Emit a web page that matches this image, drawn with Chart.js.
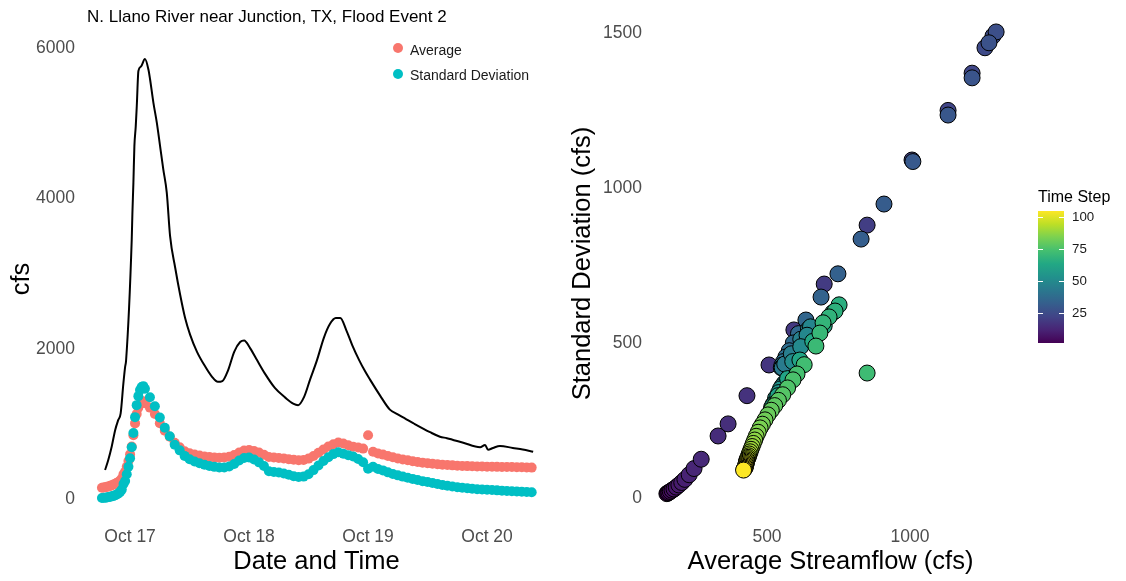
<!DOCTYPE html>
<html>
<head>
<meta charset="utf-8">
<script src="https://cdn.jsdelivr.net/npm/chart.js@4.4.1/dist/chart.umd.min.js"></script>
<style>
  html, body { margin: 0; padding: 0; background: #fff; }
  body { font-family: "Liberation Sans", Arial, sans-serif; }
  #wrap { position: relative; width: 1126px; height: 581px; overflow: hidden; }
  #wrap canvas { position: absolute; top: 0; }
  .txt { position: absolute; white-space: nowrap; }
  .dot { position: absolute; width: 10px; height: 10px; border-radius: 50%; }
  .cbTick { position: absolute; height: 1px; width: 5px; background: #fff; }
</style>
</head>
<body>
<div id="wrap">
  <canvas id="left" width="565" height="581" style="left:0"></canvas>
  <canvas id="right" width="561" height="581" style="left:565px"></canvas>

  <div class="txt" style="left:87px;top:7px;font-size:17px;line-height:20px;color:#000">N. Llano River near Junction, TX, Flood Event 2</div>

  <div class="dot" style="left:393px;top:43px;background:#F8766D"></div>
  <div class="txt" style="left:410px;top:42px;font-size:14px;line-height:16px;color:#1a1a1a">Average</div>
  <div class="dot" style="left:393px;top:69px;background:#00BFC4"></div>
  <div class="txt" style="left:410px;top:67px;font-size:14px;line-height:16px;color:#1a1a1a">Standard Deviation</div>

  <div class="txt" style="left:1038px;top:189px;font-size:16px;line-height:16px;color:#000">Time Step</div>
  <div id="cbBar" style="position:absolute;left:1038px;top:211px;width:26px;height:132px"></div>
  <div id="cbTicks"></div>
</div>
<script>
// Datos: horas desde Oct 16 00:00, caudal medio y desviación estándar por paso de tiempo
const stepHours = [
  18.33, 18.67, 19.00, 19.33, 19.67, 20.00, 20.33, 20.67, 21.00, 21.33,
  21.67, 22.00, 22.33, 22.67, 23.00, 23.33, 23.67, 24.00, 24.33, 24.67,
  25.00, 25.33, 25.67, 26.00, 26.33, 26.67, 27.00,
  28, 29, 30, 31, 32, 33, 34, 35, 36, 37, 38, 39, 40, 41, 42, 43, 44, 45, 46, 47,
  48, 49, 50, 51, 52, 53, 54, 55, 56, 57, 58, 59, 60, 61, 62, 63, 64, 65, 66, 67,
  68, 69, 70, 71, 72, 73, 74, 75, 76, 77, 78, 79, 80, 81, 82, 83, 84, 85, 86, 87,
  88, 89, 90, 91, 92, 93, 94, 95, 96, 97, 98, 99, 100, 101, 102, 103, 104, 105
];
const avgFlow = [
  150, 153, 157, 162, 168, 175, 183, 192, 202, 213,
  228, 245, 270, 329, 364, 430, 507, 594, 700, 850,
  1007, 1133, 1217, 1262, 1290, 1301, 1276,
  1217, 1133, 1010, 909, 829, 748, 689, 636, 610, 592, 578, 566, 558, 552, 550, 553, 562, 585, 618, 645,
  652, 640, 618, 590, 560, 552, 547, 541, 530, 522, 516, 520, 538, 572, 615, 660, 700, 730, 752, 738,
  717, 696, 685, 671, 850, 630, 605, 591, 572, 555, 540, 527, 515, 503, 493, 484, 476, 469, 462, 457,
  452, 448, 444, 441, 438, 436, 434, 432, 430, 429, 428, 427, 426, 425, 424, 422, 420, 418
];
const sdFlow = [
  14, 16, 18, 21, 25, 29, 35, 42, 50, 60,
  75, 95, 125, 200, 239, 330, 429, 542, 690, 880,
  1090, 1250, 1370, 1452, 1490, 1503, 1468,
  1355, 1235, 1085, 948, 835, 723, 648, 574, 530, 500, 475, 455, 440, 428, 420, 420, 432, 465, 512, 545,
  552, 525, 488, 440, 370, 360, 352, 340, 322, 303, 292, 298, 330, 385, 445, 505, 555, 598, 623, 603,
  584, 565, 532, 490, 403, 430, 400, 381, 355, 333, 315, 298, 283, 268, 252, 238, 226, 212, 199, 187,
  176, 166, 157, 149, 142, 136, 131, 127, 123, 119, 115, 111, 107, 103, 99, 96, 93, 90
];
const timeStep = stepHours.map((h, i) => i + 1);

// Caudal observado (línea negra)
const obsHours = [
  18.96, 19.6, 20.3, 21.0, 21.6, 22.1, 22.65, 23.0, 23.2, 24.33, 24.47, 24.67, 24.87, 25.14, 25.35,
  25.68, 26.2, 27.0, 27.7, 28.03, 28.7, 29.4, 30.05, 30.7, 31.4, 32.07, 33.1, 34.1, 35.1, 36.1,
  37.5, 39.1, 40.5, 41.7, 42.6, 43.8, 45.0, 46.2, 47.0, 48.2, 49.6, 51.2, 53.2, 55.3, 56.9,
  57.9, 59.1, 60.3, 61.7, 63.1, 64.3, 65.5, 66.4, 67.6, 68.8, 70.2, 71.4, 72.4, 74.4, 76.4,
  77.9, 79.5, 81.1, 84.5, 86.5, 87.9, 91.2, 94.6, 95.6, 96.2, 97.2, 98.6, 101.2, 103.2, 105.3
];
const obsFlow = [
  387, 520, 700, 920, 1050, 1140, 1540, 1760, 1850, 3450, 3810, 4210, 4700, 4960, 5230,
  5700, 5760, 5860, 5720, 5590, 5280, 5010, 4700, 4390, 4080, 3500, 3080, 2720, 2410, 2190,
  1960, 1770, 1630, 1560, 1570, 1720, 1960, 2090, 2110, 2010, 1850, 1670, 1480, 1350, 1270,
  1250, 1360, 1590, 1850, 2150, 2330, 2410, 2410, 2250, 2050, 1850, 1700, 1590, 1380, 1190,
  1130, 1070, 1010, 890, 830, 810, 750, 690, 720, 655, 680, 707, 680, 660, 630
];

// Ejes
const dayTicks = [24, 48, 72, 96];
const dayLabels = ['Oct 17', 'Oct 18', 'Oct 19', 'Oct 20'];
const cfsTicks = [0, 2000, 4000, 6000];
const avgTicks = [500, 1000];
const sdTicks = [0, 500, 1000, 1500];
const colorTicks = [25, 50, 75, 100];

Chart.defaults.font.family = '"Liberation Sans", Arial, sans-serif';
Chart.defaults.animation = false;

const viridisStops = ['#440154', '#482475', '#414487', '#355f8d', '#2a788e', '#21918c',
  '#22a884', '#44bf70', '#7ad151', '#bddf26', '#fde725'];

function hexRgb(h) {
  return [parseInt(h.slice(1, 3), 16), parseInt(h.slice(3, 5), 16), parseInt(h.slice(5, 7), 16)];
}
function viridis(t) {
  t = Math.min(1, Math.max(0, t));
  const p = t * (viridisStops.length - 1);
  const i = Math.min(Math.floor(p), viridisStops.length - 2);
  const f = p - i;
  const a = hexRgb(viridisStops[i]), b = hexRgb(viridisStops[i + 1]);
  const c = a.map((v, k) => Math.round(v + (b[k] - v) * f));
  return `rgb(${c[0]},${c[1]},${c[2]})`;
}

const stepMin = Math.min(...timeStep);
const stepMax = Math.max(...timeStep);

const tickColor = '#4d4d4d';
const tickFont = { size: 17.5 };
const titleFont = { size: 25.5 };
const plainNum = v => String(v);

function fixedTicks(values) {
  return scale => { scale.ticks = values.map(v => ({ value: v })); };
}
function fixSize(prop, size) {
  return scale => {
    scale[prop] = size;
    scale.paddingTop = 0; scale.paddingBottom = 0;
    scale.paddingLeft = 0; scale.paddingRight = 0;
  };
}

// Gráfico izquierdo: serie de tiempo
new Chart(document.getElementById('left'), {
  type: 'scatter',
  data: {
    datasets: [
      {
        label: 'Observed',
        data: obsHours.map((h, i) => ({ x: h, y: obsFlow[i] })),
        showLine: true,
        borderColor: '#000',
        borderWidth: 2,
        pointRadius: 0,
        cubicInterpolationMode: 'monotone',
        order: 3
      },
      {
        label: 'Average',
        data: stepHours.map((h, i) => ({ x: h, y: avgFlow[i] })),
        backgroundColor: '#F8766D',
        borderWidth: 0,
        pointRadius: 5,
        order: 2
      },
      {
        label: 'Standard Deviation',
        data: stepHours.map((h, i) => ({ x: h, y: sdFlow[i] })),
        backgroundColor: '#00BFC4',
        borderWidth: 0,
        pointRadius: 5,
        order: 1
      }
    ]
  },
  options: {
    responsive: false,
    layout: { padding: { top: 37, right: 12, left: 0, bottom: 0 } },
    plugins: { legend: { display: false }, tooltip: { enabled: false } },
    scales: {
      x: {
        type: 'linear', min: 13.9, max: 109.3,
        grid: { display: false, drawTicks: false }, border: { display: false },
        ticks: {
          color: tickColor, font: tickFont, padding: 6, maxRotation: 0,
          callback: v => dayLabels[dayTicks.indexOf(v)]
        },
        afterBuildTicks: fixedTicks(dayTicks),
        afterFit: fixSize('height', 60),
        title: { display: true, text: 'Date and Time', color: '#000', font: titleFont, padding: { top: 0, bottom: 4 } }
      },
      y: {
        type: 'linear', min: -293, max: 6153,
        grid: { display: false, drawTicks: false }, border: { display: false },
        ticks: { color: tickColor, font: tickFont, padding: 5, callback: plainNum },
        afterBuildTicks: fixedTicks(cfsTicks),
        afterFit: fixSize('width', 80),
        title: { display: true, text: 'cfs', color: '#000', font: titleFont, padding: { top: 7, bottom: 0 } }
      }
    }
  }
});

// Gráfico derecho: desviación estándar vs promedio
new Chart(document.getElementById('right'), {
  type: 'scatter',
  data: {
    datasets: [{
      label: 'Time Step',
      data: avgFlow.map((a, i) => ({ x: a, y: sdFlow[i] })),
      backgroundColor: timeStep.map(s => viridis((s - stepMin) / (stepMax - stepMin))),
      borderColor: '#000',
      borderWidth: 1,
      pointRadius: 8
    }]
  },
  options: {
    responsive: false,
    layout: { padding: { top: 9, right: 113, left: 0, bottom: 0 } },
    plugins: { legend: { display: false }, tooltip: { enabled: false } },
    scales: {
      x: {
        type: 'linear', min: 84, max: 1360,
        grid: { display: false, drawTicks: false }, border: { display: false },
        ticks: { color: tickColor, font: tickFont, padding: 9, maxRotation: 0, callback: plainNum },
        afterBuildTicks: fixedTicks(avgTicks),
        afterFit: fixSize('height', 63),
        title: { display: true, text: 'Average Streamflow (cfs)', color: '#000', font: titleFont, padding: { top: 0, bottom: 4 } }
      },
      y: {
        type: 'linear', min: -64.5, max: 1577,
        grid: { display: false, drawTicks: false }, border: { display: false },
        ticks: { color: tickColor, font: tickFont, padding: 6, callback: plainNum },
        afterBuildTicks: fixedTicks(sdTicks),
        afterFit: fixSize('width', 83),
        title: { display: true, text: 'Standard Deviation (cfs)', color: '#000', font: titleFont, padding: { top: 3, bottom: 0 } }
      }
    }
  }
});

// Barra de color (Time Step)
const bar = document.getElementById('cbBar');
bar.style.background = `linear-gradient(to top, ${viridisStops.join(',')})`;
const barTop = 211, barH = 132, barLeft = 1038, barW = 26;
const ticksBox = document.getElementById('cbTicks');
colorTicks.forEach(v => {
  const y = barTop + barH - (v - stepMin) / (stepMax - stepMin) * barH;
  ticksBox.innerHTML += `
    <div class="cbTick" style="left:${barLeft}px;top:${Math.round(y)}px"></div>
    <div class="cbTick" style="left:${barLeft + barW - 5}px;top:${Math.round(y)}px"></div>
    <div class="txt" style="left:1072px;top:${Math.round(y - 8)}px;font-size:13.3px;line-height:16px;color:#1a1a1a">${v}</div>`;
});
</script>
</body>
</html>
